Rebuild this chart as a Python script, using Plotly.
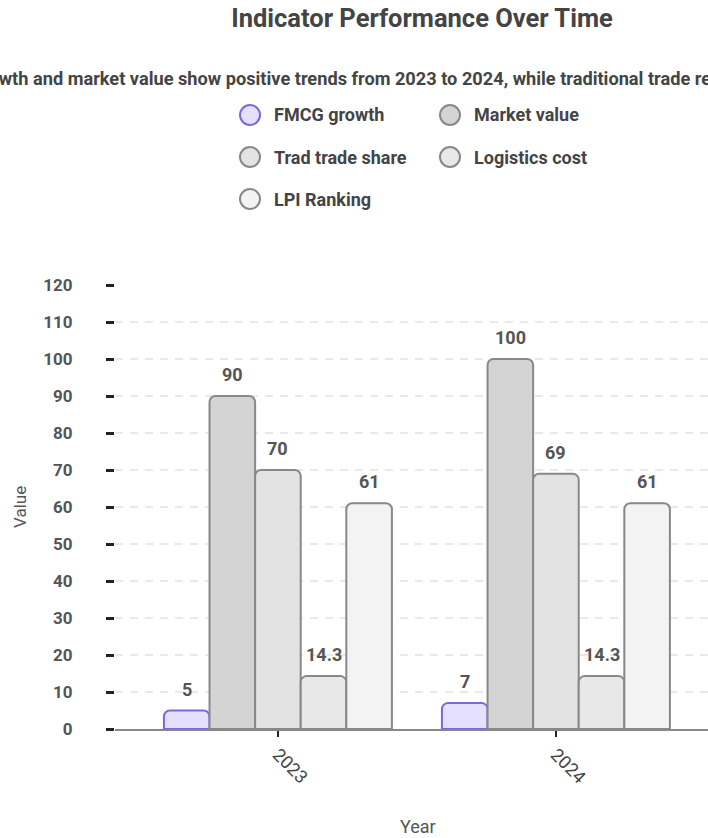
import plotly.graph_objects as go

years = ["2023", "2024"]
series_names = ["FMCG growth", "Market value", "Trad trade share", "Logistics cost", "LPI Ranking"]
fmcg_growth = [5, 7]
market_value = [90, 100]
trad_trade_share = [70, 69]
logistics_cost = [14.3, 14.3]
lpi_ranking = [61, 61]
series_values = [fmcg_growth, market_value, trad_trade_share, logistics_cost, lpi_ranking]
y_ticks = list(range(0, 121, 10))

fills = ["#e4e0fd", "#d4d4d4", "#e3e3e3", "#e8e8e8", "#f3f3f3"]
borders = ["#7a68e0", "#888888", "#888888", "#888888", "#888888"]

W, H = 708, 838
L, R, T, B = 115, 0, 285, 109
PW, PH = W - L - R, H - T - B
X_RANGE = [-0.586, 1.547]
BARGAP = 0.18

def px2x(px):
    return (px - L) / PW

def px2y(py):
    return (H - B - py) / PH

FONT = "Roboto"
fig = go.Figure()
n = len(series_names)
bar_px = PW / (X_RANGE[1] - X_RANGE[0]) * (1 - BARGAP) / n
annotations = []
for i, (name, vals, fc, bc) in enumerate(zip(series_names, series_values, fills, borders)):
    fig.add_trace(go.Bar(
        x=years, y=vals, name=name, showlegend=False,
        marker=dict(color=fc, line=dict(color=bc, width=2), cornerradius=6),
    ))
    for j, v in enumerate(vals):
        annotations.append(dict(
            text=f"{v:g}", x=j, y=v, xref="x", yref="y", showarrow=False,
            xanchor="center", yanchor="bottom", xshift=(i - (n - 1) / 2) * bar_px, yshift=9,
            font=dict(family=FONT, size=18, color="#555555", weight="bold")))

shapes = []
# legend (manual, circles)
legend_pos = [(250, 115), (450, 115), (250, 157), (450, 157), (250, 199)]
for (cx, cy), name, fc, bc in zip(legend_pos, series_names, fills, borders):
    shapes.append(dict(type="circle", xref="paper", yref="paper",
                       xsizemode="pixel", ysizemode="pixel",
                       xanchor=px2x(cx), yanchor=px2y(cy),
                       x0=-10, x1=10, y0=-10, y1=10,
                       fillcolor=fc, line=dict(color=bc, width=2)))
    annotations.append(dict(text=name, xref="paper", yref="paper",
                            x=px2x(cx + 22), y=px2y(cy), xanchor="left", yanchor="middle",
                            showarrow=False,
                            font=dict(family=FONT, size=18, color="#444444", weight="bold")))

# subtitle
annotations.append(dict(
    text="FMCG growth and market value show positive trends from 2023 to 2024, while traditional trade remains high at around 70%.",
    xref="paper", yref="paper", x=px2x(422), y=px2y(78), xanchor="center", yanchor="middle",
    showarrow=False, font=dict(family=FONT, size=18.2, color="#444444", weight="bold")))
# axis titles
annotations.append(dict(text="Year", xref="paper", yref="paper", x=px2x(418), y=px2y(826),
                        xanchor="center", yanchor="middle", showarrow=False,
                        font=dict(family=FONT, size=18, color="#555555")))
annotations.append(dict(text="Value", xref="paper", yref="paper", x=px2x(20), y=px2y(507),
                        xanchor="center", yanchor="middle", showarrow=False, textangle=-90,
                        font=dict(family=FONT, size=17, color="#555555")))

fig.update_layout(
    width=W, height=H, autosize=False,
    margin=dict(l=L, r=R, t=T, b=B, pad=0),
    paper_bgcolor="white", plot_bgcolor="white",
    title=dict(text="Indicator Performance Over Time", x=422 / W, xref="container", xanchor="center",
               y=1 - 18 / H, yref="container", yanchor="middle",
               font=dict(family=FONT, size=25.5, color="#444444", weight="bold")),
    barmode="group", bargap=BARGAP, bargroupgap=0,
    showlegend=False,
    shapes=shapes, annotations=annotations,
    xaxis=dict(type="category", range=X_RANGE, showline=True, linecolor="#888888", linewidth=2,
               ticks="outside", ticklen=6, tickwidth=2, tickcolor="#222222", tickangle=45,
               tickfont=dict(family=FONT, size=18, color="#444444"), showgrid=False),
    yaxis=dict(range=[0, 120], tickvals=y_ticks, showgrid=True, gridcolor="#e9e9e9", griddash="8px,7px",
               gridwidth=2, zeroline=False, showline=False,
               ticks="outside", ticklen=8, tickwidth=2.5, tickcolor="#222222", ticklabelstandoff=30,
               tickfont=dict(family=FONT, size=17, color="#555555", weight="bold")),
)

fig.write_html("out.html")
